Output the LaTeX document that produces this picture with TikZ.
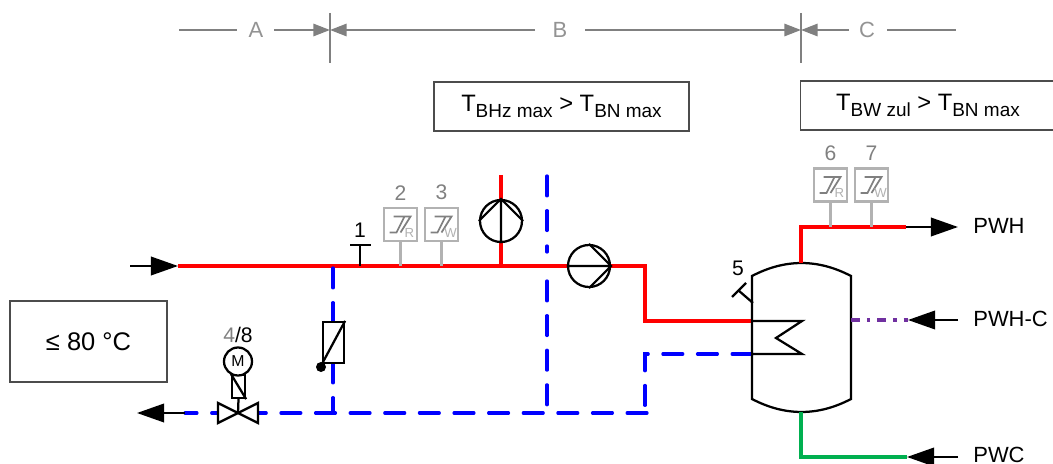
\documentclass[tikz,border=0pt]{standalone}
\usepackage{fontspec}
\setmainfont{Liberation Sans}
\usetikzlibrary{arrows.meta,positioning}
\definecolor{pipered}{RGB}{255,0,0}
\definecolor{pipeblue}{RGB}{0,0,255}
\definecolor{pipegreen}{RGB}{0,176,80}
\definecolor{pipepurple}{RGB}{112,48,160}
\definecolor{dimgray}{RGB}{128,128,128}
\definecolor{sensorgray}{RGB}{178,178,178}
\tikzset{
	hotpipe/.style={pipered,line width=0.65mm},
	coldpipe/.style={pipeblue,line width=0.65mm,line cap=round,dash pattern=on 11.3pt off 8.4pt},
	flowline/.style={black,line width=0.45mm,-{Triangle[length=15.4pt,width=10.5pt]}},
	dimline/.style={dimgray,line width=0.45mm},
	dimarrow/.style={dimline,-{Triangle[length=9.5pt,width=7pt]}},
	symline/.style={black,line width=0.45mm},
	pumpsym/.style={circle,draw=black,fill=white,line width=0.45mm,minimum size=8.4mm,inner sep=0pt},
	sensorbox/.style={draw=sensorgray,fill=white,line width=0.45mm,minimum size=6.6mm,inner sep=0pt},
	infobox/.style={draw=black!70,line width=0.25mm,inner sep=0pt,font=\fontsize{13.5pt}{16pt}\selectfont},
	numlabel/.style={inner sep=0pt,font=\fontsize{12pt}{14pt}\selectfont},
	dimlabel/.style={numlabel,text=dimgray!85,font=\fontsize{12.5pt}{14pt}\selectfont},
	portlabel/.style={inner sep=0pt,anchor=west,font=\fontsize{12.5pt}{14pt}\selectfont},
}
\newcommand{\tsub}[1]{\raisebox{-0.45ex}{\fontsize{10.8pt}{12pt}\selectfont #1}}
\newcommand{\sensorsym}[4]{%
	\node[sensorbox] (#1) at (#2) {};
	\draw[dimgray,line width=0.35mm,shift={(#1.center)}] (-11,-8) -- (-4,-8) -- (4,8) (-7,8) -- (10,8) -- (0,-8);
	\node[inner sep=0pt,text=sensorgray,font=\fontsize{7.5pt}{8pt}\selectfont] (#1sub) at ([shift={(9,-8)}]#1.center) {#3};
	\node[numlabel,text=dimgray,above=1.3mm of #1] (#1num) {#4};
}
\begin{document}
\begin{tikzpicture}[x=0.2mm,y=0.2mm]
	\useasboundingbox (0,0) rectangle (1053,-464);
	\coordinate (dimA) at (179,-30);
	\coordinate (sepA) at (330,-30);
	\coordinate (sepB) at (801,-30);
	\coordinate (dimC) at (956,-30);
	\node[dimlabel] (labA) at (256,-30) {A};
	\node[dimlabel] (labB) at (560,-30) {B};
	\node[dimlabel] (labC) at (867,-30) {C};
	\draw[dimline] (dimA) -- (237,-30);
	\draw[dimarrow] (274,-30) -- (sepA);
	\draw[dimarrow] (535,-30) -- (sepA);
	\draw[dimarrow] (585,-30) -- (sepB);
	\draw[dimarrow] (849,-30) -- (sepB);
	\draw[dimline] (887,-30) -- (dimC);
	\draw[dimline] (330,-13) -- (330,-63);
	\draw[dimline] (801,-13) -- (801,-63);

	\node[infobox,minimum width=51mm,minimum height=9.8mm] (boxB) at (561.5,-106.5) {T\tsub{BHz max} > T\tsub{BN max}};
	\node[infobox,minimum width=51mm,minimum height=9.8mm] (boxC) at (928,-105.5) {T\tsub{BW zul} > T\tsub{BN max}};
	\node[infobox,minimum width=31.4mm,minimum height=16.2mm,font=\fontsize{14.5pt}{16pt}\selectfont] (boxT) at (88.5,-341.5) {≤ 80 °C};

	\coordinate (inlet) at (178,-266);
	\coordinate (mainend) at (645,-266);
	\coordinate (coilin) at (752,-321);
	\coordinate (coilout) at (752,-354);
	\coordinate (returnend) at (185,-413);
	\coordinate (returncorner) at (647,-413);
	\coordinate (tanktop) at (801,-263);
	\coordinate (tankbottom) at (801,-412);
	\coordinate (pwhend) at (906,-227);
	\coordinate (pwcend) at (907,-457);
	\coordinate (pwhcend) at (908,-320);

	\draw[flowline] (130,-266) -- (inlet);
	\draw[hotpipe] (inlet) -- (mainend) -- (645,-321) -- (coilin);
	\draw[hotpipe] (501,-175) -- (501,-266);
	\draw[coldpipe] (coilout) -- (645,-354) -- (645,-413);
	\draw[coldpipe] (returncorner) -- (returnend);
	\draw[coldpipe] (333,-268) -- (333,-322);
	\draw[coldpipe] (333,-363) -- (333,-413);
	\draw[coldpipe] (547,-176) -- (547,-232);
	\draw[coldpipe] (547,-246) -- (547,-252);
	\draw[coldpipe] (547,-281) -- (547,-407);
	\draw[flowline] (returnend) -- (137,-413);

	\node[pumpsym] (pumpA) at (501,-221) {};
	\draw[symline] (pumpA.west) -- (pumpA.north) -- (pumpA.east) (pumpA.north) -- (pumpA.south);
	\node[pumpsym] (pumpB) at (589,-266) {};
	\draw[symline] (pumpB.north) -- (pumpB.east) -- (pumpB.south) (pumpB.west) -- (pumpB.east);

	\coordinate (probeA) at (360,-266);
	\draw[symline] (probeA) -- (360,-245);
	\draw[symline] (350,-245) -- (371,-245);
	\node[numlabel] (numA) at (360,-230) {1};
	\sensorsym{sensB}{400.5,-224.5}{R}{2}
	\sensorsym{sensC}{441.5,-224.5}{W}{3}
	\draw[sensorgray,line width=0.45mm] (sensB.south) -- (sensB.south |- probeA);
	\draw[sensorgray,line width=0.45mm] (sensC.south) -- (sensC.south |- probeA);

	\node[draw=black,fill=white,line width=0.45mm,minimum width=4.2mm,minimum height=8.2mm,inner sep=0pt] (thermo) at (333.5,-342.5) {};
	\draw[symline] (thermo.south west) -- (thermo.north east);
	\node[circle,fill=black,inner sep=0pt,minimum size=2mm] (thermodot) at (321,-367) {};

	\node[draw=black,fill=white,line width=0.45mm,minimum width=2.6mm,minimum height=4.6mm,inner sep=0pt] (drive) at (238.5,-386.5) {};
	\draw[symline] (drive.north west) -- (drive.south east);
	\node[circle,draw=black,fill=white,line width=0.45mm,minimum size=5.6mm,inner sep=0pt,font=\fontsize{9pt}{10pt}\selectfont] (motor) at (238,-361.5) {M};
	\coordinate (valve) at (238,-413);
	\draw[symline,fill=white] (valve) -- (218,-403) -- (218,-423) -- cycle;
	\draw[symline,fill=white] (valve) -- (258,-403) -- (258,-423) -- cycle;
	\draw[symline] (drive.south) -- (valve);
	\node[numlabel,above=0.6mm of motor] (numD) {{\color{dimgray}4}/8};

	\draw[symline] (752,-276) .. controls (785,-258.7) and (818,-258.7) .. (851,-276) -- (851,-399) .. controls (818,-416.3) and (785,-416.3) .. (752,-399) -- cycle;
	\draw[symline] (coilin) -- (802,-321) -- (776,-338) -- (802,-354) -- (coilout);
	\draw[symline] (753,-303) -- (738,-290);
	\draw[symline] (732,-297) -- (746,-283);
	\node[numlabel] (numE) at (738,-268) {5};

	\draw[hotpipe] (tanktop) -- (801,-227) -- (pwhend);
	\draw[pipegreen,line width=0.65mm] (tankbottom) -- (801,-457) -- (pwcend);
	\draw[pipepurple,line width=0.65mm,dash pattern=on 5pt off 4pt on 2pt off 4pt] (851,-320) -- (pwhcend);
	\sensorsym{sensF}{830.5,-185}{R}{6}
	\sensorsym{sensG}{871.5,-185}{W}{7}
	\draw[sensorgray,line width=0.45mm] (sensF.south) -- (sensF.south |- pwhend);
	\draw[sensorgray,line width=0.45mm] (sensG.south) -- (sensG.south |- pwhend);

	\draw[flowline] (pwhend) -- (958,-227);
	\draw[flowline] (958,-320) -- (pwhcend);
	\draw[flowline] (958,-457) -- (pwcend);
	\node[portlabel] (portH) at (973,-226) {PWH};
	\node[portlabel] (portC) at (973,-319) {PWH-C};
	\node[portlabel] (portW) at (973,-454.5) {PWC};
\end{tikzpicture}
\end{document}
